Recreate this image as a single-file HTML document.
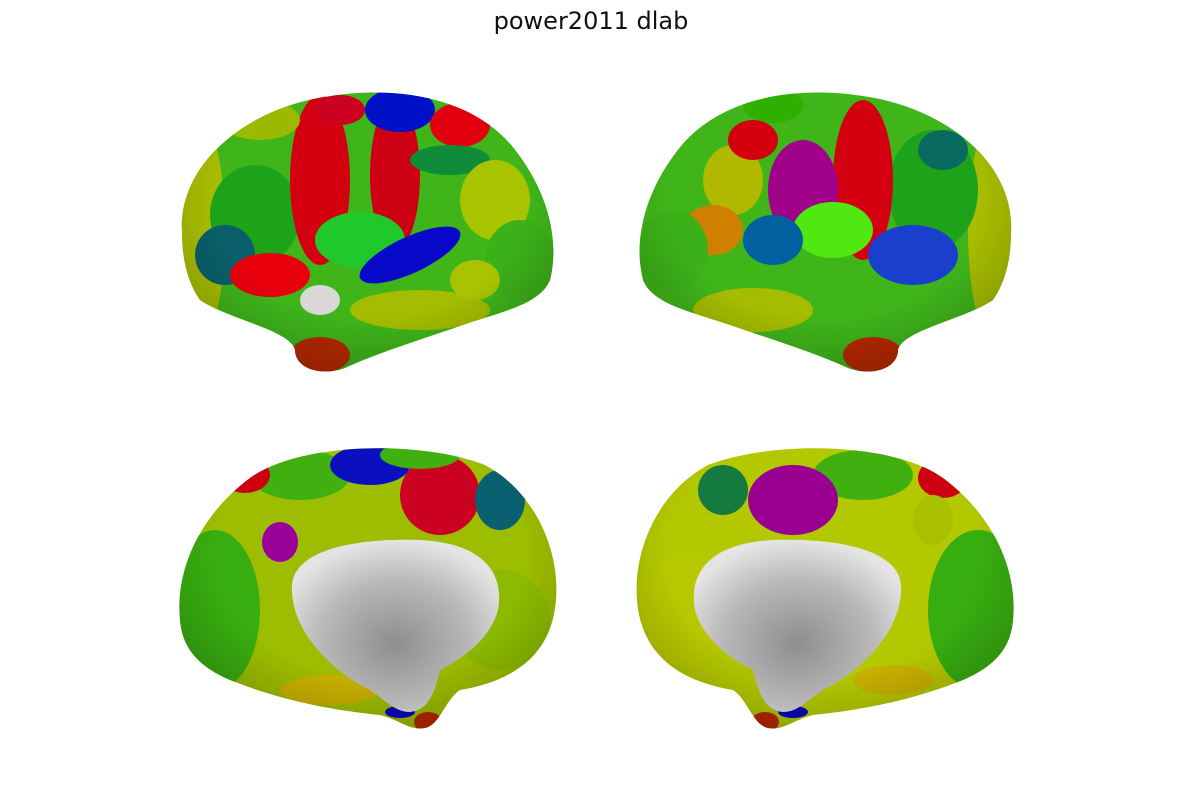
<!DOCTYPE html>
<html><head><meta charset="utf-8"><style>
html,body{margin:0;padding:0;background:#fff;}
svg{display:block;}
text{font-family:"DejaVu Sans","Liberation Sans",sans-serif;}
</style></head><body>
<svg width="1182" height="802" viewBox="0 0 1182 802">
<defs>
<clipPath id="latClip"><path d="M182 232 C178 165,245 108,330 96 C395 86,470 96,512 146 C548 190,560 240,550 280 C540 305,500 312,460 326 C420 340,380 352,345 368 C320 377,295 368,295 350 C290 330,230 320,200 300 C186 280,182 255,182 232 Z"/></clipPath>
<clipPath id="medClip"><path d="M180 620 C175 570,200 515,250 478 C300 442,420 440,485 465 C535 492,560 550,556 600 C552 650,520 680,460 690 C445 700,440 725,425 728 C410 731,400 720,380 715 C330 710,280 700,230 680 C195 665,182 645,180 620 Z"/></clipPath>
<radialGradient id="gray" cx="0.5" cy="0.6" r="0.6"><stop offset="0" stop-color="#8e8e8e"/><stop offset="0.6" stop-color="#b8b8b8"/><stop offset="1" stop-color="#e4e4e4"/></radialGradient>
<radialGradient id="shade" cx="0.5" cy="0.4" r="0.65"><stop offset="0.6" stop-color="#000" stop-opacity="0"/><stop offset="1" stop-color="#000" stop-opacity="0.25"/></radialGradient>
</defs>
<text x="591" y="29" text-anchor="middle" font-size="24" fill="#111">power2011 dlab</text>

<g>
<g clip-path="url(#latClip)">
<rect x="170" y="80" width="400" height="300" fill="#3fb51a"/>
<ellipse cx="200" cy="230" rx="25" ry="110" fill="#a8bd00"/>
<ellipse cx="255" cy="215" rx="45" ry="50" fill="#1da31a"/>
<ellipse cx="225" cy="255" rx="30" ry="30" fill="#0a5f6a"/>
<ellipse cx="320" cy="180" rx="30" ry="85" fill="#d40010"/>
<ellipse cx="395" cy="175" rx="25" ry="75" fill="#cc0012"/>
<ellipse cx="400" cy="110" rx="35" ry="22" fill="#0010c8"/>
<ellipse cx="460" cy="125" rx="30" ry="22" fill="#e2000c"/>
<ellipse cx="450" cy="160" rx="40" ry="15" fill="#0f8c3a"/>
<ellipse cx="495" cy="200" rx="35" ry="40" fill="#a8c400"/>
<ellipse cx="520" cy="260" rx="35" ry="40" fill="#3cb018"/>
<ellipse cx="270" cy="275" rx="40" ry="22" fill="#e8000c"/>
<ellipse cx="360" cy="240" rx="45" ry="28" fill="#20c82a"/>
<ellipse cx="410" cy="255" rx="55" ry="18" fill="#0808c8" transform="rotate(-25 410 255)"/>
<ellipse cx="320" cy="300" rx="20" ry="15" fill="#d8d8d8"/>
<ellipse cx="420" cy="310" rx="70" ry="20" fill="#a4bd00"/>
<ellipse cx="475" cy="280" rx="25" ry="20" fill="#a8c400"/>
<ellipse cx="320" cy="355" rx="30" ry="18" fill="#b82800"/>
<ellipse cx="260" cy="120" rx="40" ry="20" fill="#9aba00"/>
<ellipse cx="340" cy="110" rx="25" ry="15" fill="#cc0020"/>
<rect x="170" y="80" width="400" height="300" fill="url(#shade)"/>
</g></g>

<g transform="translate(1193,0) scale(-1,1)">
<g clip-path="url(#latClip)">
<rect x="170" y="80" width="400" height="300" fill="#3fb51a"/>
<ellipse cx="200" cy="230" rx="25" ry="110" fill="#a8bd00"/>
<ellipse cx="260" cy="190" rx="45" ry="60" fill="#1da31a"/>
<ellipse cx="250" cy="150" rx="25" ry="20" fill="#0a6a60"/>
<ellipse cx="330" cy="180" rx="30" ry="80" fill="#d40010"/>
<ellipse cx="390" cy="190" rx="35" ry="50" fill="#a0008a"/>
<ellipse cx="280" cy="255" rx="45" ry="30" fill="#1a3fcc"/>
<ellipse cx="360" cy="230" rx="40" ry="28" fill="#50e810"/>
<ellipse cx="420" cy="105" rx="30" ry="18" fill="#2fb000"/>
<ellipse cx="420" cy="240" rx="30" ry="25" fill="#0060a0"/>
<ellipse cx="460" cy="180" rx="30" ry="35" fill="#b0b800"/>
<ellipse cx="480" cy="230" rx="30" ry="25" fill="#d08000"/>
<ellipse cx="520" cy="250" rx="35" ry="40" fill="#3cb018"/>
<ellipse cx="440" cy="310" rx="60" ry="22" fill="#a4bd00"/>
<ellipse cx="320" cy="355" rx="30" ry="18" fill="#b82800"/>
<ellipse cx="440" cy="140" rx="25" ry="20" fill="#d40010"/>
<rect x="170" y="80" width="400" height="300" fill="url(#shade)"/>
</g></g>

<g>
<g clip-path="url(#medClip)">
<rect x="170" y="430" width="400" height="310" fill="#9cbd00"/>
<ellipse cx="215" cy="610" rx="45" ry="80" fill="#38ad10"/>
<ellipse cx="300" cy="475" rx="50" ry="25" fill="#3fb010"/>
<ellipse cx="370" cy="465" rx="40" ry="20" fill="#0a10c0"/>
<ellipse cx="440" cy="495" rx="40" ry="40" fill="#cc0020"/>
<ellipse cx="500" cy="500" rx="25" ry="30" fill="#0a6070"/>
<ellipse cx="420" cy="455" rx="40" ry="14" fill="#3fb010"/>
<ellipse cx="280" cy="542" rx="18" ry="20" fill="#9a009a"/>
<ellipse cx="245" cy="475" rx="25" ry="18" fill="#cc0010"/>
<ellipse cx="500" cy="620" rx="50" ry="50" fill="#8cba00"/>
<ellipse cx="330" cy="690" rx="50" ry="15" fill="#c8b000"/>
<ellipse cx="428" cy="722" rx="14" ry="10" fill="#b82800"/>
<ellipse cx="400" cy="712" rx="15" ry="6" fill="#0808c0"/>
<rect x="170" y="430" width="400" height="310" fill="url(#shade)"/>
<path d="M292 585 C295 548,360 538,420 540 C480 543,505 570,498 610 C490 640,460 660,440 670 C435 690,430 710,410 712 C395 712,385 700,370 690 C330 670,290 630,292 585 Z" fill="url(#gray)"/>
</g></g>

<g transform="translate(1193,0) scale(-1,1)">
<g clip-path="url(#medClip)">
<rect x="170" y="430" width="400" height="310" fill="#b4c800"/>
<ellipse cx="215" cy="610" rx="50" ry="80" fill="#38ad10"/>
<ellipse cx="250" cy="478" rx="25" ry="20" fill="#cc0010"/>
<ellipse cx="330" cy="475" rx="50" ry="25" fill="#3fb010"/>
<ellipse cx="400" cy="500" rx="45" ry="35" fill="#9a0090"/>
<ellipse cx="470" cy="490" rx="25" ry="25" fill="#157a40"/>
<ellipse cx="260" cy="520" rx="20" ry="25" fill="#a8c000"/>
<ellipse cx="505" cy="610" rx="50" ry="55" fill="#b8c800"/>
<ellipse cx="300" cy="680" rx="40" ry="15" fill="#c8b000"/>
<ellipse cx="428" cy="722" rx="14" ry="10" fill="#b82800"/>
<ellipse cx="400" cy="712" rx="15" ry="6" fill="#0808c0"/>
<rect x="170" y="430" width="400" height="310" fill="url(#shade)"/>
<path d="M292 585 C295 548,360 538,420 540 C480 543,505 570,498 610 C490 640,460 660,440 670 C435 690,430 710,410 712 C395 712,385 700,370 690 C330 670,290 630,292 585 Z" fill="url(#gray)"/>
</g></g>
</svg>
</body></html>
